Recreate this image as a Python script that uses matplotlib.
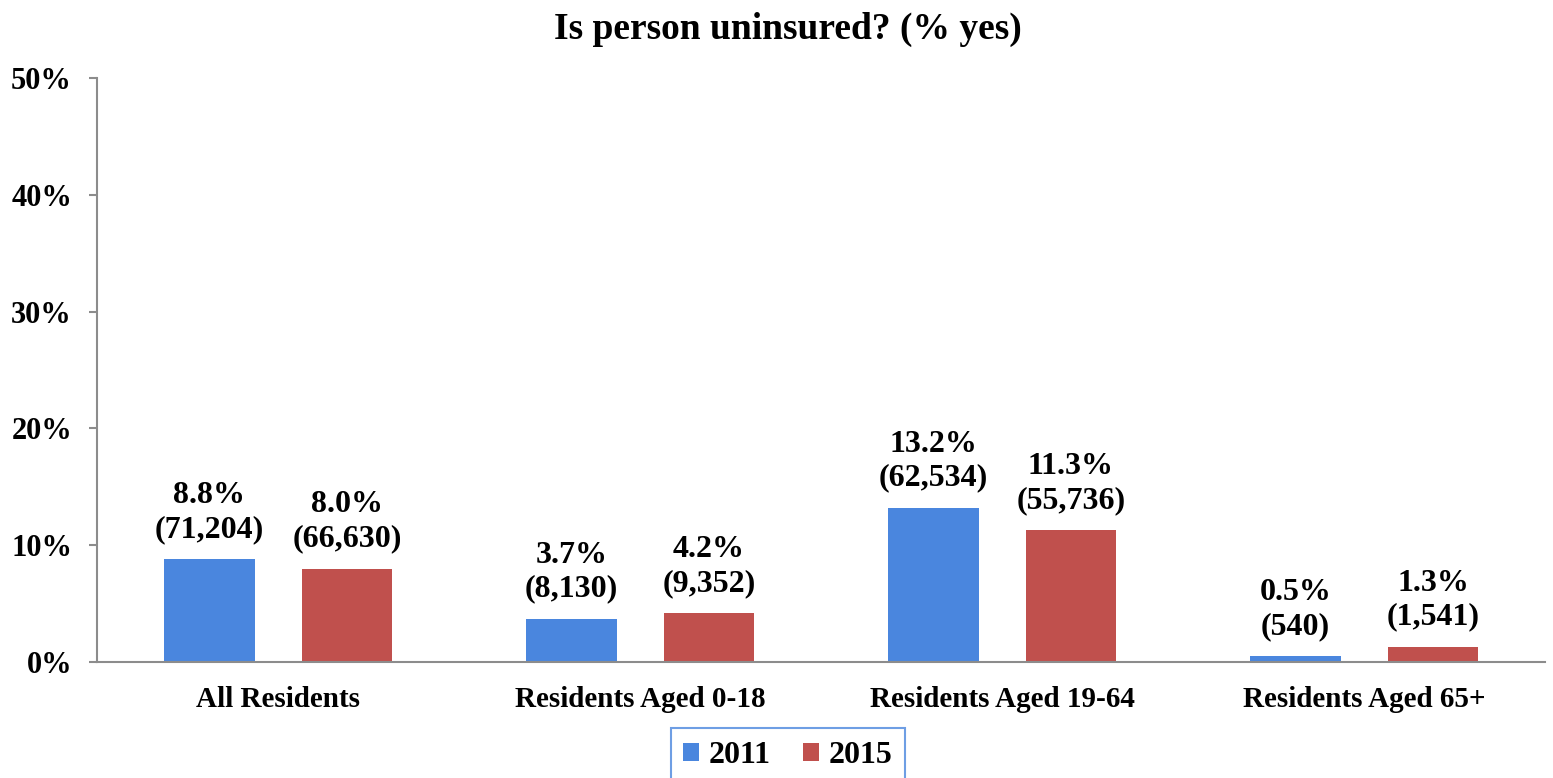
import numpy as np
import matplotlib.pyplot as plt

categories = ['All Residents', 'Residents Aged 0-18', 'Residents Aged 19-64', 'Residents Aged 65+']
pct_2011 = [8.8, 3.7, 13.2, 0.5]
pct_2015 = [8.0, 4.2, 11.3, 1.3]
count_2011 = ['71,204', '8,130', '62,534', '540']
count_2015 = ['66,630', '9,352', '55,736', '1,541']
yticks = [0, 10, 20, 30, 40, 50]

plt.rcParams['font.family'] = ['Liberation Serif', 'DejaVu Serif']
plt.rcParams['font.weight'] = 'bold'

fig = plt.figure(figsize=(15.53, 7.78), dpi=100)
ax = fig.add_axes([0.0625, 0.149, 0.9325, 0.751])

x = np.arange(len(categories))
w = 0.25
off = 0.19
b1 = ax.bar(x - off, pct_2011, w, color='#4A86DE', label='2011')
b2 = ax.bar(x + off, pct_2015, w, color='#C0504D', label='2015')

for bars, vals, cnts in [(b1, pct_2011, count_2011), (b2, pct_2015, count_2015)]:
    for b, v, c in zip(bars, vals, cnts):
        ax.annotate(f'{v:.1f}%\n({c})', (b.get_x() + b.get_width() / 2, v),
                    xytext=(0, 11), textcoords='offset points',
                    ha='center', va='bottom', fontsize=23, fontweight='bold',
                    linespacing=1.22)

ax.set_xlim(-0.5, len(categories) - 0.5)
ax.set_ylim(0, 50)
ax.set_yticks(yticks)
ax.set_yticklabels([f'{t}%' for t in yticks], fontsize=22, fontweight='bold')
ax.set_xticks(x)
ax.set_xticklabels(categories, fontsize=21, fontweight='bold')
ax.tick_params(axis='x', length=0, pad=17)
ax.tick_params(axis='y', length=6, width=1.5, color='#8C8C8C', pad=12)

for s in ['top', 'right']:
    ax.spines[s].set_visible(False)
for s in ['left', 'bottom']:
    ax.spines[s].set_color('#8C8C8C')
    ax.spines[s].set_linewidth(1.5)

ax.set_title('Is person uninsured? (% yes)', fontsize=27, fontweight='bold',
             pad=28, x=0.477)

leg = ax.legend(loc='upper center', bbox_to_anchor=(0.477, -0.086), ncol=2,
                prop={'weight': 'bold', 'size': 23},
                handlelength=0.5, handleheight=0.5, handletextpad=0.3,
                columnspacing=1.0, borderpad=0.4, fancybox=False)
leg.get_frame().set_edgecolor('#4A86DE')
leg.get_frame().set_linewidth(1.5)

fig.savefig('out.png', dpi=100)
